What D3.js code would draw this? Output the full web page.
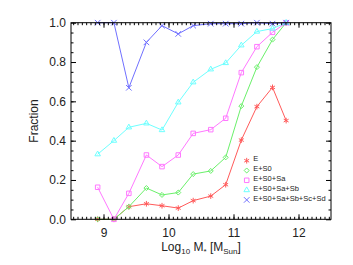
<!DOCTYPE html>
<html>
<head>
<meta charset="utf-8">
<script src="https://cdn.jsdelivr.net/npm/d3@7"></script>
<style>
  html, body { margin: 0; padding: 0; background: #fff; }
  svg { display: block; font-family: 'Liberation Sans', Arial, sans-serif; }
</style>
</head>
<body>
<div id="chart"></div>
<script>
// log10 stellar mass bins
const massBins = [8.91, 9.16, 9.39, 9.66, 9.9, 10.15, 10.38, 10.65, 10.88, 11.12, 11.36, 11.6, 11.81];

// cumulative morphological fractions per bin
const fracE = [0, 0, 0.064, 0.079, 0.069, 0.057, 0.095, 0.118, 0.176, 0.403, 0.573, 0.671, 0.502];
const fracES0 = [0, 0, 0.064, 0.159, 0.124, 0.136, 0.230, 0.246, 0.315, 0.576, 0.774, 0.914, 1.0];
const fracES0Sa = [0.163, 0, 0.132, 0.327, 0.268, 0.327, 0.437, 0.456, 0.514, 0.746, 0.878, 0.951, 1.0];
const fracES0SaSb = [0.331, 0.400, 0.468, 0.488, 0.454, 0.595, 0.697, 0.763, 0.795, 0.885, 0.955, 0.970, 1.0];
const fracAll = [1.0, 1.0, 0.669, 0.900, 0.985, 0.943, 0.985, 0.995, 0.995, 0.995, 1.0, 0.995, 1.0];

const seriesNames = ['E', 'E+S0', 'E+S0+Sa', 'E+S0+Sa+Sb', 'E+S0+Sa+Sb+Sc+Sd'];

const xTickValues = [9, 10, 11, 12];
const yTickValues = [0, 0.2, 0.4, 0.6, 0.8, 1.0];

const width = 353;
const height = 265;
const box = { left: 71, right: 331, top: 22.7, bottom: 219.3 };

const series = [
  { title: seriesNames[0], values: fracE, color: '#ff5a5a', symbol: d3.symbolAsterisk, size: 22 },
  { title: seriesNames[1], values: fracES0, color: '#6af06a', symbol: d3.symbolDiamond2, size: 16 },
  { title: seriesNames[2], values: fracES0Sa, color: '#ff78ff', symbol: d3.symbolSquare2, size: 26 },
  { title: seriesNames[3], values: fracES0SaSb, color: '#6effff', symbol: d3.symbolTriangle2, size: 22 },
  { title: seriesNames[4], values: fracAll, color: '#7070ff', symbol: d3.symbolTimes, size: 22 }
];

const xScale = d3.scaleLinear().domain([8.5, 12.5]).range([box.left, box.right]);
const yScale = d3.scaleLinear().domain([0, 1]).range([box.bottom, box.top]);

const xMinor = d3.range(-7, 53).map(k => 9 + k / 15).filter(v => v > 8.5 && v < 12.5);
const yMinor = d3.range(1, 20).map(k => k * 0.05);

const svg = d3.select('#chart').append('svg')
  .attr('width', width)
  .attr('height', height);

svg.append('rect').attr('width', width).attr('height', height).attr('fill', '#fff');

// lines + markers
const lineGenerator = d3.line()
  .x((d, i) => xScale(massBins[i]))
  .y(d => yScale(d));

const chartGroup = svg.append('g');
series.forEach(s => {
  chartGroup.append('path')
    .attr('d', lineGenerator(s.values))
    .attr('fill', 'none')
    .attr('stroke', s.color)
    .attr('stroke-width', 1);
  chartGroup.selectAll(null)
    .data(s.values)
    .enter()
    .append('path')
    .attr('transform', (d, i) => `translate(${xScale(massBins[i])},${yScale(d)})`)
    .attr('d', d3.symbol(s.symbol, s.size))
    .attr('fill', 'none')
    .attr('stroke', s.color)
    .attr('stroke-width', 1);
});

// axes with inward ticks
function styleAxis(g) {
  g.select('.domain').remove();
  g.selectAll('line').attr('stroke', '#000').attr('stroke-width', 1);
  g.selectAll('text').attr('fill', '#222').style('font-size', '12px')
    .style('font-family', "'Liberation Sans', Arial, sans-serif");
}

svg.append('g')
  .attr('transform', `translate(0,${box.bottom})`)
  .call(d3.axisBottom(xScale).tickValues(xTickValues).tickFormat(d3.format('d'))
    .tickSizeInner(-5).tickSizeOuter(0).tickPadding(9))
  .call(styleAxis);
svg.append('g')
  .attr('transform', `translate(0,${box.bottom})`)
  .call(d3.axisBottom(xScale).tickValues(xMinor).tickFormat('')
    .tickSizeInner(-2.5).tickSizeOuter(0))
  .call(styleAxis);
svg.append('g')
  .attr('transform', `translate(0,${box.top})`)
  .call(d3.axisTop(xScale).tickValues(xTickValues).tickFormat('')
    .tickSizeInner(-5).tickSizeOuter(0))
  .call(styleAxis);
svg.append('g')
  .attr('transform', `translate(0,${box.top})`)
  .call(d3.axisTop(xScale).tickValues(xMinor).tickFormat('')
    .tickSizeInner(-2.5).tickSizeOuter(0))
  .call(styleAxis);

svg.append('g')
  .attr('transform', `translate(${box.left},0)`)
  .call(d3.axisLeft(yScale).tickValues(yTickValues).tickFormat(d3.format('.1f'))
    .tickSizeInner(-5).tickSizeOuter(0).tickPadding(5))
  .call(styleAxis);
svg.append('g')
  .attr('transform', `translate(${box.left},0)`)
  .call(d3.axisLeft(yScale).tickValues(yMinor).tickFormat('')
    .tickSizeInner(-2.5).tickSizeOuter(0))
  .call(styleAxis);
svg.append('g')
  .attr('transform', `translate(${box.right},0)`)
  .call(d3.axisRight(yScale).tickValues(yTickValues).tickFormat('')
    .tickSizeInner(-5).tickSizeOuter(0))
  .call(styleAxis);
svg.append('g')
  .attr('transform', `translate(${box.right},0)`)
  .call(d3.axisRight(yScale).tickValues(yMinor).tickFormat('')
    .tickSizeInner(-2.5).tickSizeOuter(0))
  .call(styleAxis);

// frame
svg.append('rect')
  .attr('x', box.left)
  .attr('y', box.top)
  .attr('width', box.right - box.left)
  .attr('height', box.bottom - box.top)
  .attr('fill', 'none')
  .attr('stroke', '#000')
  .attr('stroke-width', 1);

// axis titles
svg.append('text')
  .attr('transform', `translate(38,${(box.top + box.bottom) / 2}) rotate(-90)`)
  .attr('text-anchor', 'middle')
  .attr('fill', '#222')
  .style('font-size', '12px')
  .text('Fraction');

const xLabel = svg.append('text')
  .attr('x', (box.left + box.right) / 2)
  .attr('y', 251)
  .attr('text-anchor', 'middle')
  .attr('fill', '#222')
  .style('font-size', '12px');
xLabel.append('tspan').text('Log');
xLabel.append('tspan').attr('dy', 3).style('font-size', '8px').text('10');
xLabel.append('tspan').attr('dy', -3).text(' M');
xLabel.append('tspan').attr('dy', 3).style('font-size', '8px').text('*');
xLabel.append('tspan').attr('dy', -3).text(' [M');
xLabel.append('tspan').attr('dy', 3).style('font-size', '8px').text('Sun');
xLabel.append('tspan').attr('dy', -3).text(']');

// legend
const legendGroup = svg.append('g');
const legendRows = legendGroup.selectAll('g')
  .data(series)
  .enter()
  .append('g')
  .attr('transform', (d, i) => `translate(246.7,${160.7 + i * 9.8})`);
legendRows.append('path')
  .attr('d', d => d3.symbol(d.symbol, d.size)())
  .attr('fill', 'none')
  .attr('stroke', d => d.color)
  .attr('stroke-width', 1);
legendRows.append('text')
  .attr('x', 6.5)
  .attr('y', 0)
  .attr('dy', '0.1em')
  .attr('fill', '#222')
  .style('font-size', '7.5px')
  .text(d => d.title);
</script>
</body>
</html>
